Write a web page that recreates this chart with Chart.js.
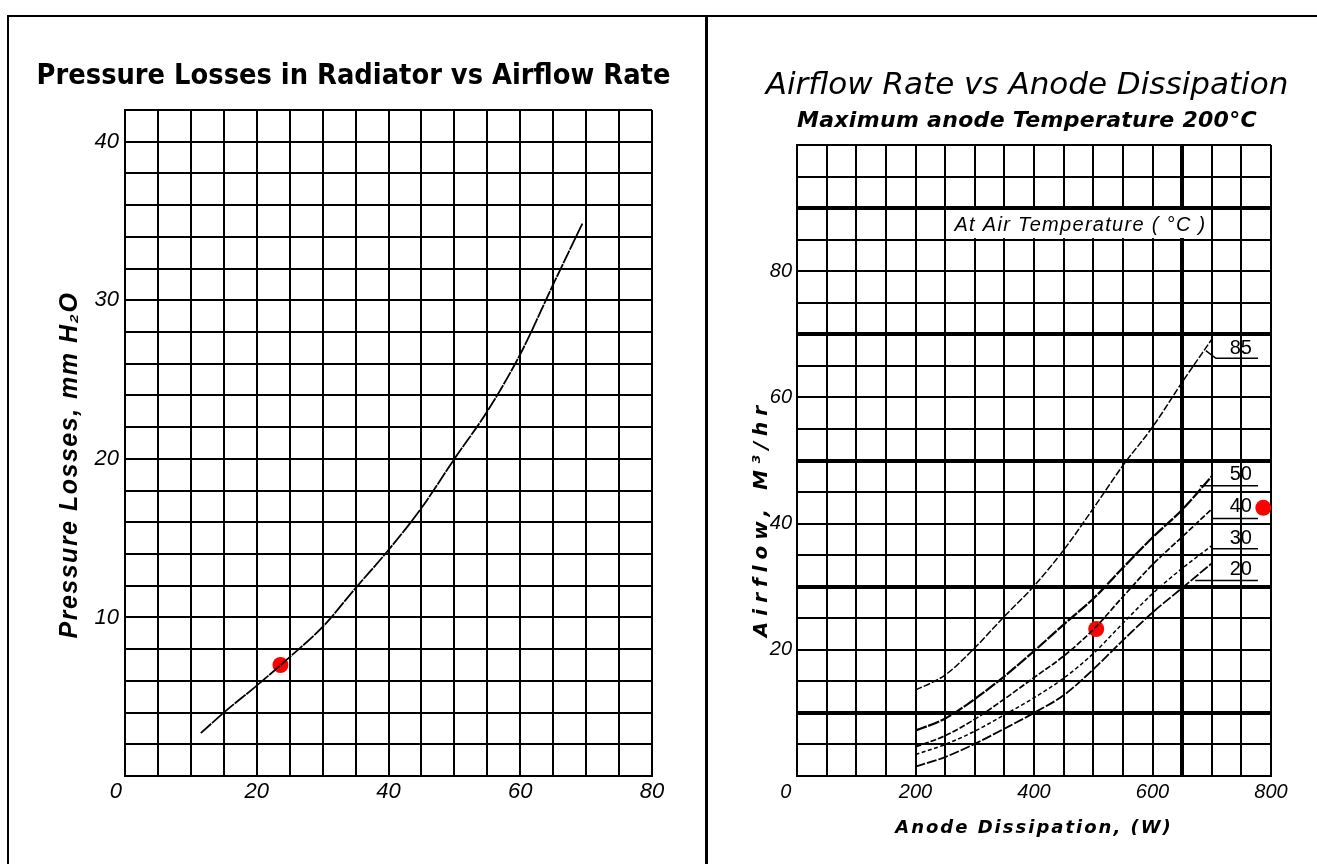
<!DOCTYPE html>
<html><head><meta charset="utf-8">
<script src="https://cdn.jsdelivr.net/npm/chart.js@4.4.1/dist/chart.umd.min.js"></script>
<style>
html,body{margin:0;padding:0;background:#fff;overflow:hidden;width:1317px;height:864px;}
#wrap{position:relative;width:1317px;height:864px;overflow:hidden;background:#fff;}
canvas{position:absolute;top:0;}
#c1{left:0;}
#c2{left:708px;}
.ln{position:absolute;background:#000;}
</style></head><body>
<div id="wrap">
<canvas id="c1" width="707" height="864"></canvas>
<canvas id="c2" width="609" height="864"></canvas>
<div class="ln" style="left:7px;top:15px;width:1310px;height:2px"></div>
<div class="ln" style="left:7px;top:15px;width:2px;height:849px"></div>
<div class="ln" style="left:705px;top:15px;width:3px;height:849px"></div>
</div>
<script>
// ---------- Left chart data ----------
const leftTitle = 'Pressure Losses in Radiator vs Airflow Rate';
const leftXTitle = 'Airflow, M³/hr';
const leftYTitle = 'Pressure Losses, mm H₂O';
const airflow = [11.5, 15, 20, 25, 30, 35, 40, 45, 50, 55, 60, 65, 69.5];
const pressure = [2.7, 4.0, 5.7, 7.5, 9.4, 11.85, 14.25, 16.9, 20.0, 23.0, 26.6, 31.0, 34.9];
const leftDotX = [23.6];
const leftDotY = [7.0];
const airflowTicks = [0, 20, 40, 60, 80];
const pressureTicks = [10, 20, 30, 40];

// ---------- Right chart data ----------
const rightTitle = 'Airflow Rate vs Anode Dissipation';
const rightSubtitle = 'Maximum anode Temperature 200°C';
const rightXTitle = 'Anode Dissipation, (W)';
const rightYTitle = 'Airflow, M³/hr';
const noteText = 'At Air Temperature ( °C )';
const dissipation = [200, 250, 300, 350, 400, 450, 500, 550, 600, 650, 700];
const flow85 = [13.6, 16.0, 20.3, 25.3, 30.1, 35.8, 42.4, 49.2, 55.3, 62.4, 69.2];
const flow50 = [7.2, 9.1, 12.2, 15.8, 19.8, 24.0, 28.1, 33.0, 37.8, 42.2, 47.5];
const flow40 = [4.6, 6.4, 9.0, 12.2, 15.6, 19.0, 23.2, 28.4, 33.5, 37.9, 42.3];
const flow30 = [3.4, 5.0, 7.1, 9.7, 12.4, 15.5, 19.4, 24.2, 28.9, 32.9, 36.5];
const flow20 = [1.5, 3.0, 5.1, 7.5, 10.0, 12.8, 16.9, 21.5, 25.9, 29.8, 33.7];
const airTemps = ['85', '50', '40', '30', '20'];
const rightDotX = [505, 787];
const rightDotY = [23.3, 42.5];
const dissipationTicks = [0, 200, 400, 600, 800];
const flowTicks = [20, 40, 60, 80];

// ---------- helpers ----------
const pts = (xs, ys) => xs.map((x, i) => ({x: x, y: ys[i]}));

// text styling extras (letter spacing and along-axis shift of axis titles)
const textStyle = new Map([
  [leftXTitle, {ls: '2px'}],
  [leftYTitle, {ls: '1.5px', dy: 22}],
  [rightSubtitle, {ls: '0.3px'}],
  [rightXTitle, {ls: '2px'}],
  [rightYTitle, {ls: '6px', dy: 58}]
]);

if (Chart.Scale && Chart.Scale.prototype.drawTitle) {
  const origDrawTitle = Chart.Scale.prototype.drawTitle;
  Chart.Scale.prototype.drawTitle = function () {
    const t = this.options.title;
    const st = (t && textStyle.get(t.text)) || {};
    const ctx = this.ctx;
    ctx.save();
    if (st.ls) ctx.letterSpacing = st.ls;
    ctx.translate(st.dx || 0, st.dy || 0);
    origDrawTitle.call(this);
    ctx.restore();
  };
}

const spacingPlugin = {
  id: 'spacing',
  beforeDraw(chart) {
    chart.boxes.forEach(box => {
      if (box.axis || box.__ls || !box.options || typeof box.options.text !== 'string') return;
      const st = textStyle.get(box.options.text);
      if (!st || !st.ls) return;
      const od = box.draw.bind(box);
      box.draw = function (a) {
        const c = chart.ctx; c.save(); c.letterSpacing = st.ls; od(a); c.restore();
      };
      box.__ls = true;
    });
  }
};

const tickFontL = {family: '"Liberation Sans", Arial, sans-serif', size: 22, style: 'italic', lineHeight: 1.2};
const tickFontR = {family: '"Liberation Sans", Arial, sans-serif', size: 20, style: 'italic', lineHeight: 1.2};

// ---------- Left chart ----------
new Chart(document.getElementById('c1'), {
  type: 'line',
  data: {
    datasets: [
      {type: 'line', data: pts(airflow, pressure), borderColor: '#000', borderWidth: 1.8,
       borderDash: [14, 1], pointRadius: 0, tension: 0.4, cubicInterpolationMode: 'monotone', fill: false},
      {type: 'scatter', data: pts(leftDotX, leftDotY), backgroundColor: '#ff0000', borderWidth: 0,
       pointRadius: 8, clip: false}
    ]
  },
  options: {
    responsive: false, animation: false, events: [],
    layout: {padding: {left: 0, right: 0, top: 0, bottom: 0}},
    plugins: {
      legend: {display: false}, tooltip: {enabled: false},
      title: {display: true, text: leftTitle, color: '#000',
        font: {family: '"DejaVu Sans Condensed", "Liberation Sans Narrow", sans-serif', size: 28.7, weight: 'bold', lineHeight: 1.2},
        padding: {top: 59.2, bottom: 16.4}}
    },
    scales: {
      x: {type: 'linear', min: 0, max: 80,
        afterFit(s) { s.height = 88; },
        ticks: {stepSize: 5, autoSkip: false, maxRotation: 0, minRotation: 0, padding: 3, color: '#000', font: tickFontL,
          callback: v => airflowTicks.includes(v) ? (v === 0 ? '0   ' : String(v)) : ''},
        grid: {color: '#000', lineWidth: 2, drawTicks: false},
        border: {color: '#000', width: 2},
        title: {display: true, text: leftXTitle, color: '#000',
          font: {family: '"Liberation Sans", Arial, sans-serif', size: 27, weight: 'bold', style: 'italic', lineHeight: 1},
          padding: {top: 0, bottom: 23}}
      },
      y: {type: 'linear', min: 0, max: 42,
        afterFit(s) { s.width = 125; },
        ticks: {stepSize: 2, autoSkip: false, padding: 6, color: '#000', font: tickFontL,
          callback: v => pressureTicks.includes(v) ? String(v) : ''},
        grid: {color: '#000', lineWidth: 2, drawTicks: false},
        border: {color: '#000', width: 2},
        title: {display: true, text: leftYTitle, color: '#000',
          font: {family: '"Liberation Sans", Arial, sans-serif', size: 25, weight: 'bold', style: 'italic', lineHeight: 1},
          padding: {top: 57.5, bottom: 0}}
      },
      y2: {type: 'linear', position: 'right', display: true,
        afterFit(s) { s.width = 55; },
        grid: {display: false}, ticks: {display: false}, border: {display: false}}
    }
  },
  plugins: [spacingPlugin]
});

// ---------- Right chart annotations ----------
const noteBox = {x0: 253, x1: 697, y0: 89.7, y1: 85.25};
const tempLabelPos = {x: 749, y: [67.7, 47.8, 42.7, 37.7, 32.7]};
const tempLeader = {y: [66.2, 46.0, 40.8, 36.0, 31.0], x0: [707, 680, 700, 700, 672], x1: 778};

const annotPlugin = {
  id: 'annot',
  beforeDatasetsDraw(chart) {
    const {ctx} = chart;
    const x = chart.scales.x, y = chart.scales.y;
    ctx.save();
    const bx0 = x.getPixelForValue(noteBox.x0), bx1 = x.getPixelForValue(noteBox.x1);
    const by0 = y.getPixelForValue(noteBox.y0), by1 = y.getPixelForValue(noteBox.y1);
    ctx.fillStyle = '#fff';
    ctx.fillRect(bx0, by0, bx1 - bx0, by1 - by0);
    ctx.fillStyle = '#000';
    ctx.textAlign = 'center';
    ctx.textBaseline = 'middle';
    ctx.font = 'italic 20px "Liberation Sans", Arial, sans-serif';
    ctx.letterSpacing = '1.3px';
    ctx.fillText(noteText, (bx0 + bx1) / 2 + 2, (by0 + by1) / 2 + 1);
    ctx.letterSpacing = '0px';
    // temperature labels with underline leaders
    ctx.font = '20px "Liberation Sans", Arial, sans-serif';
    ctx.strokeStyle = '#000';
    ctx.lineWidth = 1.5;
    airTemps.forEach((t, i) => {
      ctx.fillText(t, x.getPixelForValue(tempLabelPos.x), y.getPixelForValue(tempLabelPos.y[i]));
      ctx.beginPath();
      if (i === 0) {
        ctx.moveTo(x.getPixelForValue(690), y.getPixelForValue(67.4));
      } else {
        ctx.moveTo(x.getPixelForValue(tempLeader.x0[i]), y.getPixelForValue(tempLeader.y[i]));
      }
      ctx.lineTo(x.getPixelForValue(tempLeader.x0[i]), y.getPixelForValue(tempLeader.y[i]));
      ctx.lineTo(x.getPixelForValue(tempLeader.x1), y.getPixelForValue(tempLeader.y[i]));
      ctx.stroke();
    });
    ctx.restore();
  }
};

const curve = (ys, w, dash) => ({type: 'line', data: pts(dissipation, ys), borderColor: '#000', borderWidth: w,
  borderDash: dash, pointRadius: 0, tension: 0.4, cubicInterpolationMode: 'monotone', fill: false});

// ---------- Right chart ----------
new Chart(document.getElementById('c2'), {
  type: 'line',
  data: {
    datasets: [
      curve(flow85, 1.5, [7, 2]),
      curve(flow50, 2.2, [12, 1.5]),
      curve(flow40, 1.7, [6, 2]),
      curve(flow30, 1.5, [4, 2.5]),
      curve(flow20, 1.8, [10, 2]),
      {type: 'scatter', data: pts(rightDotX, rightDotY), backgroundColor: '#ff0000', borderWidth: 0,
       pointRadius: 8, clip: false}
    ]
  },
  options: {
    responsive: false, animation: false, events: [],
    layout: {padding: {left: 29, right: 0, top: 0, bottom: 0}},
    plugins: {
      legend: {display: false}, tooltip: {enabled: false},
      title: {display: true, text: rightTitle, color: '#000',
        font: {family: '"DejaVu Sans", sans-serif', size: 31, style: 'italic', weight: 'normal', lineHeight: 1.2},
        padding: {top: 67.4, bottom: 0}},
      subtitle: {display: true, text: rightSubtitle, color: '#000',
        font: {family: '"DejaVu Sans", sans-serif', size: 22, style: 'italic', weight: 'bold', lineHeight: 1.2},
        padding: {top: 3.7, bottom: 10.3}}
    },
    scales: {
      x: {type: 'linear', min: 0, max: 800,
        afterFit(s) { s.height = 88; },
        ticks: {stepSize: 50, autoSkip: false, maxRotation: 0, minRotation: 0, padding: 4, color: '#000', font: tickFontR,
          callback: v => dissipationTicks.includes(v) ? (v === 0 ? '0    ' : String(v)) : ''},
        grid: {color: '#000', lineWidth: c => (c.tick && c.tick.value === 650) ? 4 : 2, drawTicks: false},
        border: {color: '#000', width: 2},
        title: {display: true, text: rightXTitle, color: '#000',
          font: {family: '"DejaVu Sans", sans-serif', size: 18, weight: 'bold', style: 'italic', lineHeight: 1},
          padding: {top: 0, bottom: 27}}
      },
      y: {type: 'linear', min: 0, max: 100,
        afterFit(s) { s.width = 60; },
        ticks: {stepSize: 5, autoSkip: false, padding: 5, color: '#000', font: tickFontR,
          callback: v => flowTicks.includes(v) ? String(v) : ''},
        grid: {color: '#000', lineWidth: c => (c.tick && [10, 30, 50, 70, 90].includes(c.tick.value)) ? 4 : 2, drawTicks: false},
        border: {color: '#000', width: 2},
        title: {display: true, text: rightYTitle, color: '#000',
          font: {family: '"DejaVu Sans", sans-serif', size: 20, weight: 'bold', style: 'italic', lineHeight: 1},
          padding: {top: 15, bottom: 0}}
      },
      y2: {type: 'linear', position: 'right', display: true,
        afterFit(s) { s.width = 46; },
        grid: {display: false}, ticks: {display: false}, border: {display: false}}
    }
  },
  plugins: [spacingPlugin, annotPlugin]
});
</script>
</body></html>
